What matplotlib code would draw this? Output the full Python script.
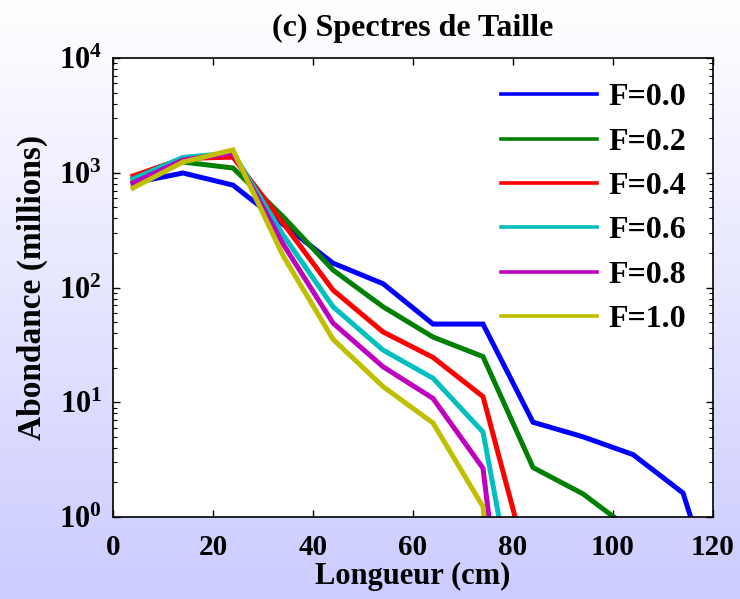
import numpy as np
import matplotlib
matplotlib.use('Agg')
import matplotlib.pyplot as plt
from matplotlib.ticker import LogLocator, NullFormatter, MultipleLocator

plt.rcParams['font.family'] = 'Liberation Serif'
plt.rcParams['font.weight'] = 'bold'
plt.rcParams['mathtext.fontset'] = 'custom'
plt.rcParams['mathtext.rm'] = 'Liberation Serif:bold'
plt.rcParams['mathtext.it'] = 'Liberation Serif:bold'
plt.rcParams['mathtext.bf'] = 'Liberation Serif:bold'

# length classes (cm)
longueur = [4, 14, 24, 34, 44, 54, 64, 74, 84, 94, 104, 114, 124]

# abundance (millions) for each fishing level F
f00 = [814, 995, 780, 355, 163, 108, 48, 48, 6.7, 5.0, 3.5, 1.62, 0.07]
f02 = [880, 1240, 1100, 415, 142, 68, 37, 25, 2.7, 1.59, 0.75, np.nan, np.nan]
f04 = [937, 1330, 1370, 365, 95, 41, 24.6, 11.2, 0.26, np.nan, np.nan, np.nan, np.nan]
f06 = [883, 1360, 1490, 288, 68, 28.5, 16.2, 5.5, 0.026, np.nan, np.nan, np.nan, np.nan]
f08 = [814, 1290, 1490, 240, 49, 20.4, 10.8, 2.66, 0.0007, np.nan, np.nan, np.nan, np.nan]
f10 = [736, 1240, 1580, 190, 35.4, 13.7, 6.6, 1.23, 0.0001, np.nan, np.nan, np.nan, np.nan]

series = [f00, f02, f04, f06, f08, f10]
labels = ['F=0.0', 'F=0.2', 'F=0.4', 'F=0.6', 'F=0.8', 'F=1.0']
colors = ['#0000ff', '#008000', '#ff0000', '#00bfbf', '#bf00bf', '#bfbf00']

fig = plt.figure(figsize=(7.4, 5.99), dpi=100)

# gradient background
bg = fig.add_axes([0, 0, 1, 1], zorder=-10)
grad = np.linspace(0, 1, 256).reshape(-1, 1)
top = np.array([1.0, 1.0, 1.0])
bottom = np.array([0.80, 0.80, 1.0])
img = top + (bottom - top) * grad[:, :, None]
img = np.repeat(img, 2, axis=1)
bg.imshow(img, aspect='auto', extent=[0, 1, 0, 1])
bg.axis('off')

ax = fig.add_axes([113 / 740, 1 - 517 / 599, 600 / 740, 459 / 599])
ax.set_facecolor('white')

for vals, lab, col in zip(series, labels, colors):
    ax.plot(longueur, vals, color=col, lw=3.6, label=lab, solid_joinstyle='miter')

ax.set_yscale('log')
ax.set_xlim(0, 120)
ax.set_ylim(1, 1e4)
ax.xaxis.set_major_locator(MultipleLocator(20))
ax.yaxis.set_major_locator(LogLocator(base=10, numticks=10))
ax.yaxis.set_minor_locator(LogLocator(base=10, subs=np.arange(2, 10), numticks=10))
ax.yaxis.set_minor_formatter(NullFormatter())

ax.tick_params(which='both', direction='in', top=True, right=True)
ax.tick_params(which='major', length=5, width=1)
ax.tick_params(which='minor', length=3, width=0.8)
ax.tick_params(axis='x', labelsize=21, pad=12)
ax.tick_params(axis='y', labelsize=22, pad=8)
for sp in ax.spines.values():
    sp.set_linewidth(1.2)

ax.set_title('(c) Spectres de Taille', fontsize=23, fontweight='bold', pad=16)
ax.set_xlabel('Longueur (cm)', fontsize=22, fontweight='bold', labelpad=1)
ax.set_ylabel('Abondance (millions)', fontsize=24, fontweight='bold', labelpad=8)

leg = ax.legend(loc='upper left', bbox_to_anchor=(501 / 740, 1 - 83 / 599),
                bbox_transform=fig.transFigure, frameon=False, fontsize=23,
                handlelength=3.0, handletextpad=0.35, labelspacing=0.47,
                borderpad=0, borderaxespad=0)
for h in leg.get_lines():
    h.set_linewidth(2.6)

fig.savefig('out.png', dpi=100)
